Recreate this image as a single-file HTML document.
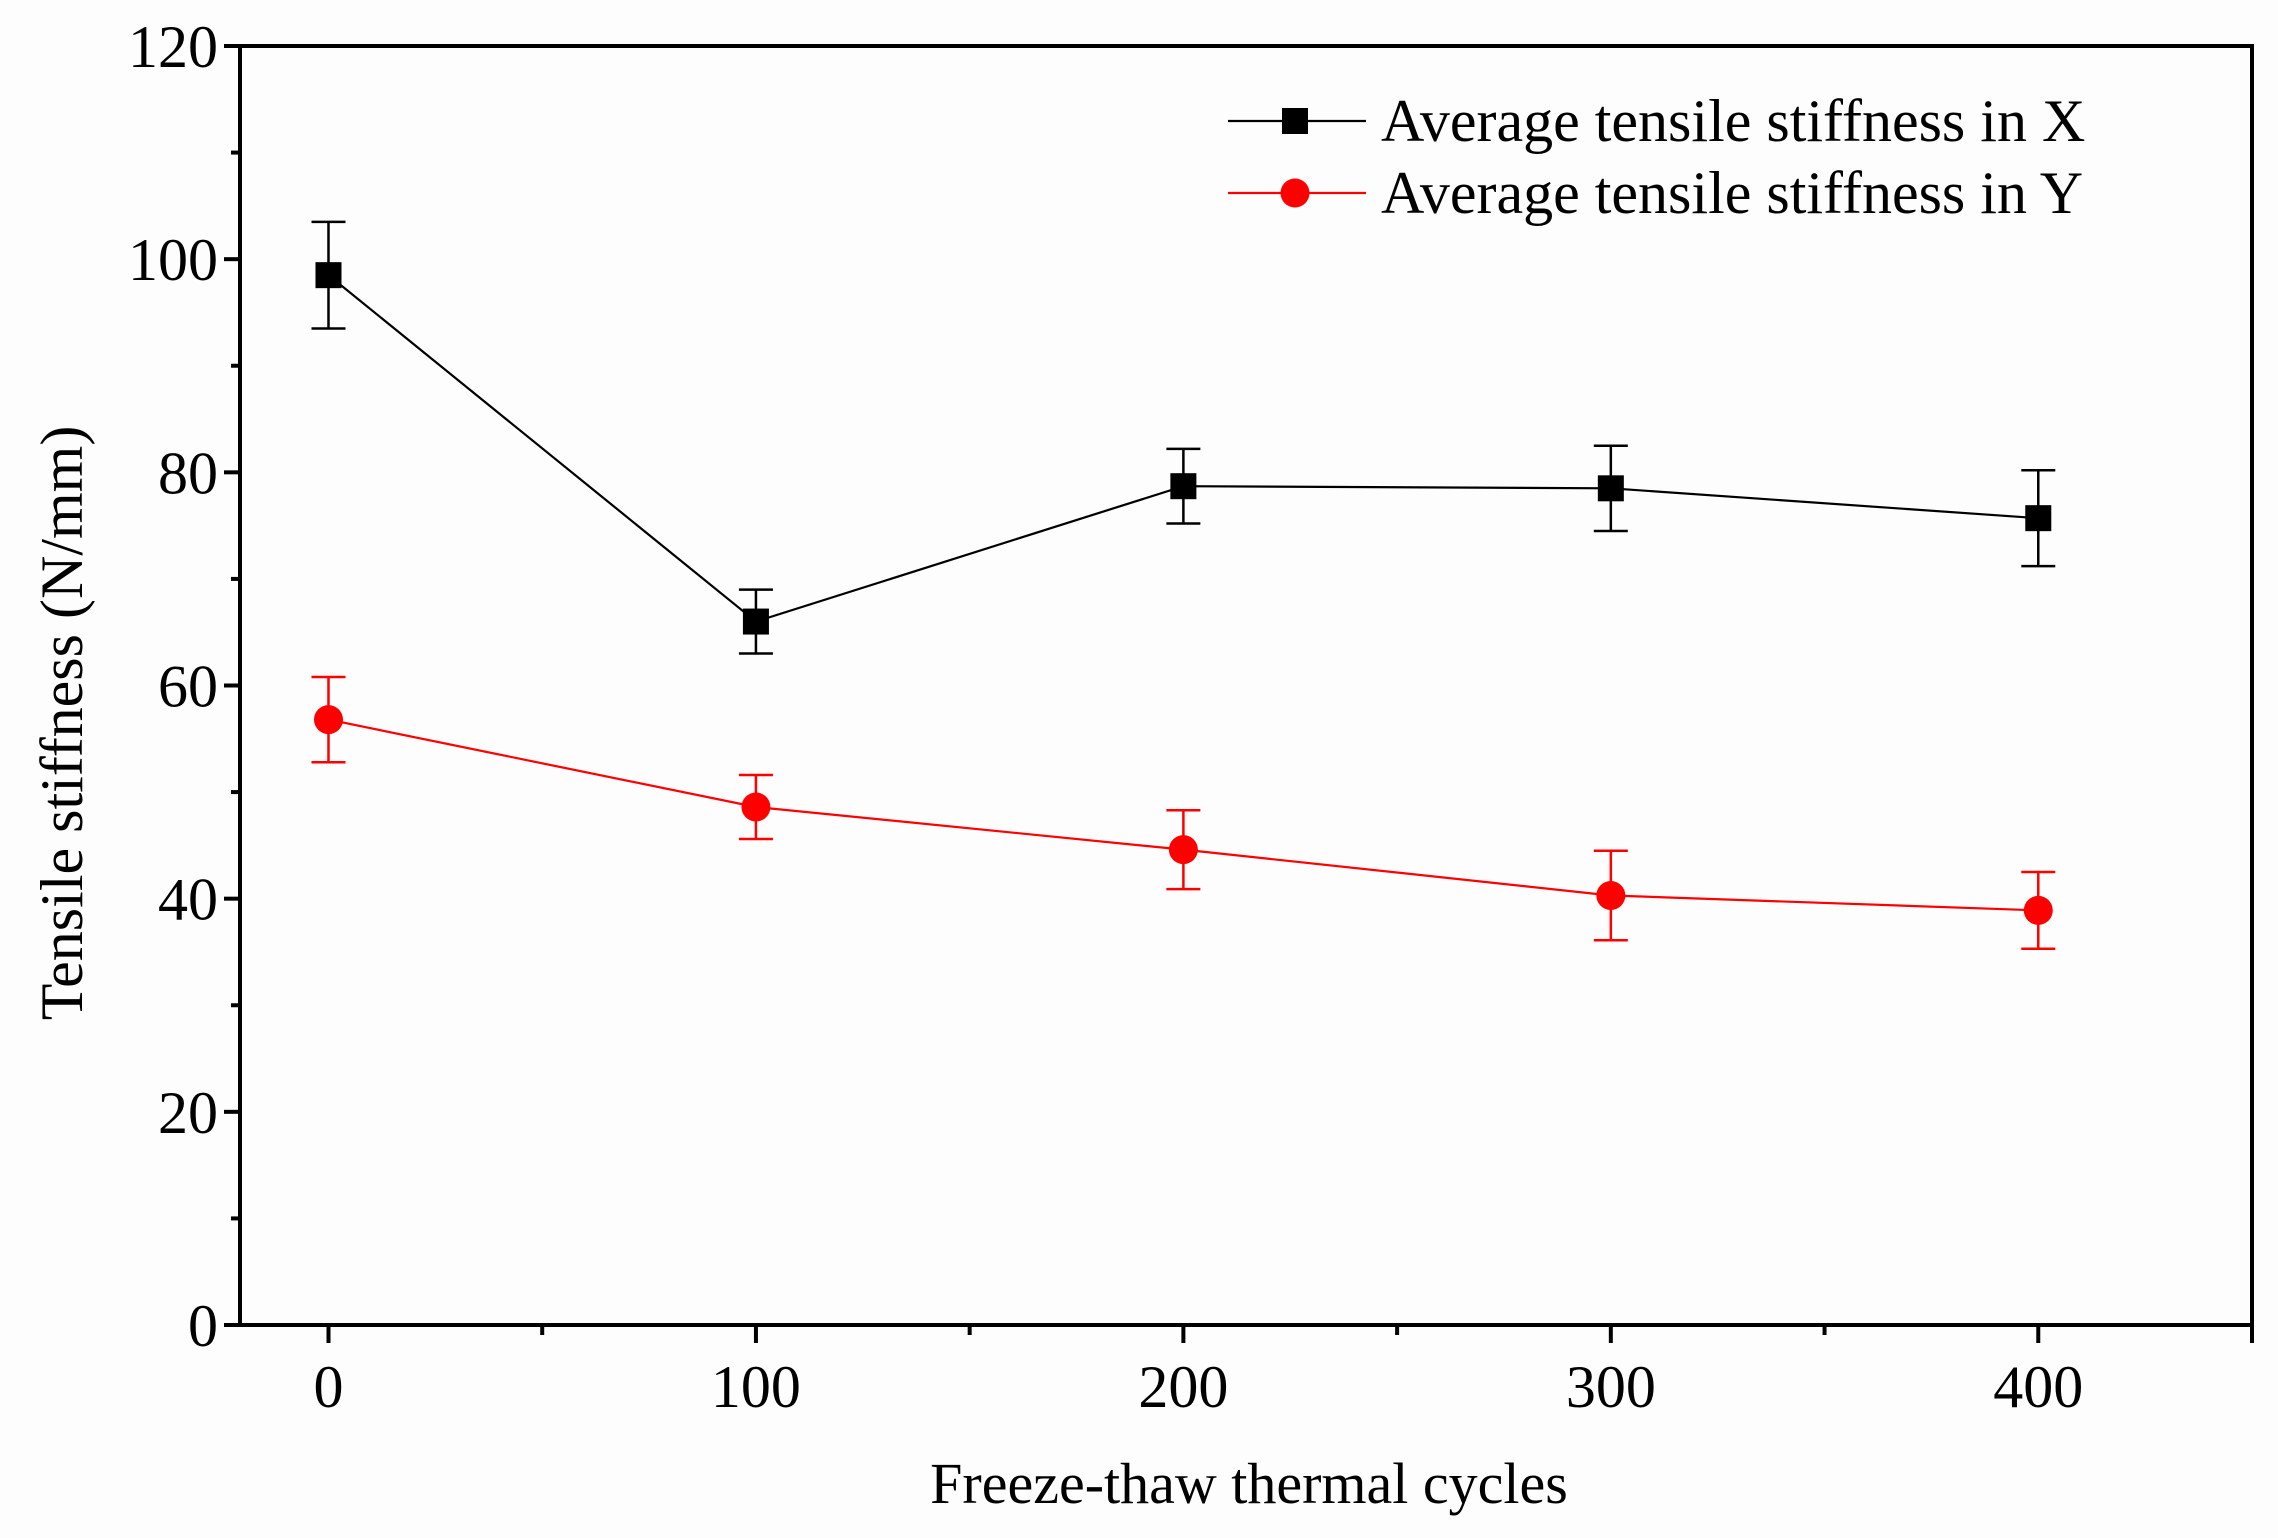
<!DOCTYPE html>
<html><head><meta charset="utf-8"><style>
html,body{margin:0;padding:0;background:#fff;}
svg{display:block;font-family:"Liberation Serif",serif;}
</style></head><body>
<svg id="chart" width="2278" height="1538" viewBox="0 0 2278 1538" xmlns="http://www.w3.org/2000/svg">
<rect width="2278" height="1538" fill="#fdfdfd"/>
<g id="plot"></g>
</svg>
<script>
const categories=[0,100,200,300,400];
const seriesX=[98.5,66,78.7,78.5,75.7];
const errX=[5,3,3.5,4,4.5];
const seriesY=[56.8,48.6,44.6,40.3,38.9];
const errY=[4,3,3.7,4.2,3.6];
const yTicks=[0,20,40,60,80,100,120];
const xTicks=[0,100,200,300,400];
const legendLabels=["Average tensile stiffness in X","Average tensile stiffness in Y"];

const L=243,R=2252,T=46,B=1325,xmin=-20,xmax=450,ymin=0,ymax=120;
const sx=v=>L+(v-xmin)/(xmax-xmin)*(R-L);
const sy=v=>B-(v-ymin)/(ymax-ymin)*(B-T);
const NS="http://www.w3.org/2000/svg";
const g=document.getElementById('plot');
function mk(t,a,p){const e=document.createElementNS(NS,t);for(const k in a)e.setAttribute(k,a[k]);(p||g).appendChild(e);return e;}

let e;
e=mk('rect',{x:240,y:T,width:R-240,height:B-T,fill:'none',stroke:'#000','stroke-width':4});



yTicks.forEach(v=>{
  let t=mk('line',{x1:240-16,x2:240,y1:sy(v),y2:sy(v),stroke:'#000','stroke-width':4});
  
  
  let s=mk('text',{x:240-22,y:sy(v)+21,'font-size':60,'text-anchor':'end',fill:'#000'});
  s.textContent=v;
  
  
  if(v<ymax){
    let m=mk('line',{x1:240-9,x2:240,y1:sy(v+10),y2:sy(v+10),stroke:'#000','stroke-width':4});
    
    
  }
});
xTicks.forEach(v=>{
  let t=mk('line',{x1:sx(v),x2:sx(v),y1:B,y2:B+18,stroke:'#000','stroke-width':4});
  
  
  let s=mk('text',{x:sx(v),y:B+82,'font-size':60,'text-anchor':'middle',fill:'#000'});
  s.textContent=v;
  
  
  let m=mk('line',{x1:sx(v+50),x2:sx(v+50),y1:B,y2:B+10,stroke:'#000','stroke-width':4});
  
  
});
e=mk('line',{x1:R,x2:R,y1:B,y2:B+18,stroke:'#000','stroke-width':4});



e=mk('text',{x:1249,y:1503,'font-size':58,'text-anchor':'middle',fill:'#000'});
e.textContent='Freeze-thaw thermal cycles';


e=mk('text',{x:0,y:0,'font-size':60,'text-anchor':'middle',fill:'#000',transform:'translate(82,723) rotate(-90)'});
e.textContent='Tensile stiffness (N/mm)';



function drawSeries(vals,errs,color,shape,name){
  const pts=categories.map((c,i)=>sx(c)+','+sy(vals[i])).join(' ');
  let l=mk('polyline',{points:pts,fill:'none',stroke:color,'stroke-width':2.2});
  
  
  categories.forEach((c,i)=>{
    const x=sx(c),y1=sy(vals[i]+errs[i]),y2=sy(vals[i]-errs[i]);
    let eb=mk('path',{d:`M${x},${y1}V${y2}M${x-17},${y1}H${x+17}M${x-17},${y2}H${x+17}`,stroke:color,'stroke-width':2.5,fill:'none'});
    
    
    let m;
    if(shape==='sq') m=mk('rect',{x:x-13,y:sy(vals[i])-13,width:26,height:26,fill:color});
    else m=mk('circle',{cx:x,cy:sy(vals[i]),r:14.5,fill:color});
    
    
  });
}
drawSeries(seriesX,errX,'#000','sq','series-x');
drawSeries(seriesY,errY,'#ff0000','ci','series-y');

[[121,'#000','sq'],[193,'#ff0000','ci']].forEach((d,i)=>{
  let l=mk('line',{x1:1228,x2:1366,y1:d[0],y2:d[0],stroke:d[1],'stroke-width':2.2});
  
  
  let m=d[2]==='sq'?mk('rect',{x:1282,y:d[0]-13,width:26,height:26,fill:d[1]}):mk('circle',{cx:1295,cy:d[0],r:14.5,fill:d[1]});
  
  
  let t=mk('text',{x:1381,y:d[0]+20,'font-size':60,fill:'#000'});
  t.textContent=legendLabels[i];
  
  
});
</script>
</body></html>
